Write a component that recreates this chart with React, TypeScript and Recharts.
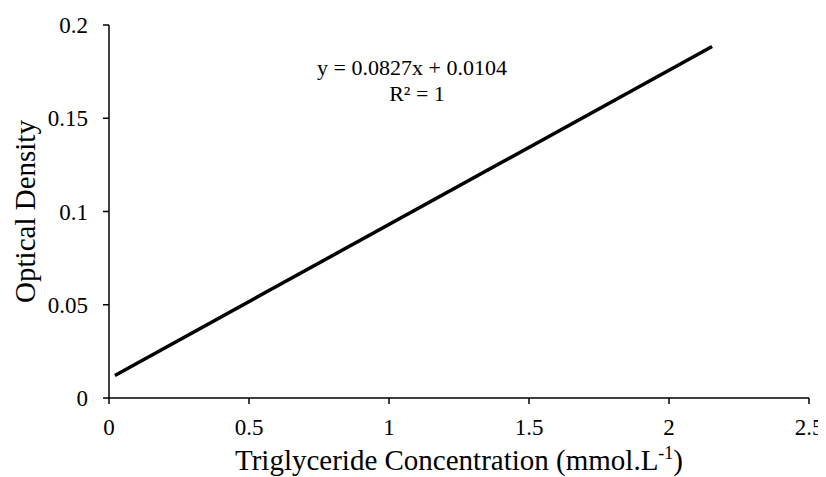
import { Label, Line, LineChart, XAxis, YAxis } from "recharts"

// calibration line end points
const concentration = [0.021, 2.154]
const opticalDensity = [0.0121, 0.1885]

const xTicks = [0, 0.5, 1, 1.5, 2, 2.5]
const yTicks = [0, 0.05, 0.1, 0.15, 0.2]

const equation = "y = 0.0827x + 0.0104"
const rSquared = "R² = 1"

const font = "'Liberation Serif', 'Times New Roman', serif"

const data = concentration.map((x, i) => ({ x, od: opticalDensity[i] }))

const fmt = (v: number) => String(v)

function XTitle(props: any) {
  const vb = props.viewBox
  const cx = vb.x + vb.width / 2
  return (
    <text x={cx} y={vb.y + vb.height + 42} textAnchor="middle" fontFamily={font} fontSize={29} fill="#000">
      <tspan>Triglyceride Concentration (mmol.L</tspan>
      <tspan dy={-11} fontSize={18}>-1</tspan>
      <tspan dy={11}>)</tspan>
    </text>
  )
}

function YTitle(props: any) {
  const vb = props.viewBox
  const cx = 17
  const cy = vb.y + vb.height / 2
  return (
    <text
      x={cx}
      y={cy}
      transform={`rotate(-90, ${cx}, ${cy})`}
      textAnchor="middle"
      dominantBaseline="central"
      fontFamily={font}
      fontSize={29}
      fill="#000"
    >
      Optical Density
    </text>
  )
}

export default function App() {
  const tick = { fontFamily: font, fontSize: 23, fill: "#000" }
  return (
    <div style={{ position: "relative", width: 818, height: 469 }}>
      <LineChart width={818} height={469} data={data} margin={{ top: 17, right: 17, left: 31, bottom: 49 }}>
        <XAxis
          type="number"
          dataKey="x"
          domain={[0, 2.5]}
          ticks={xTicks}
          tickFormatter={fmt}
          height={30}
          tick={tick}
          tickSize={6}
          tickMargin={15}
          axisLine={{ stroke: "#000", strokeWidth: 1.5 }}
          tickLine={{ stroke: "#000", strokeWidth: 1.5 }}
          allowDataOverflow
        >
          <Label content={<XTitle />} />
        </XAxis>
        <YAxis
          type="number"
          domain={[0, 0.2]}
          ticks={yTicks}
          tickFormatter={fmt}
          width={70}
          tick={tick}
          tickSize={6}
          tickMargin={15}
          axisLine={{ stroke: "#000", strokeWidth: 1.5 }}
          tickLine={{ stroke: "#000", strokeWidth: 1.5 }}
          allowDataOverflow
        >
          <Label content={<YTitle />} />
        </YAxis>
        <Line
          type="linear"
          dataKey="od"
          stroke="#000"
          strokeWidth={3.5}
          dot={false}
          isAnimationActive={false}
        />
      </LineChart>
      <svg
        width={818}
        height={469}
        style={{ position: "absolute", left: 0, top: 0, pointerEvents: "none" }}
      >
        <text x={404} y={67} textAnchor="middle" fontFamily={font} fontSize={22} fill="#000">
          {equation}
        </text>
        <text x={409} y={93} textAnchor="middle" fontFamily={font} fontSize={22} fill="#000">
          {rSquared}
        </text>
      </svg>
    </div>
  )
}
